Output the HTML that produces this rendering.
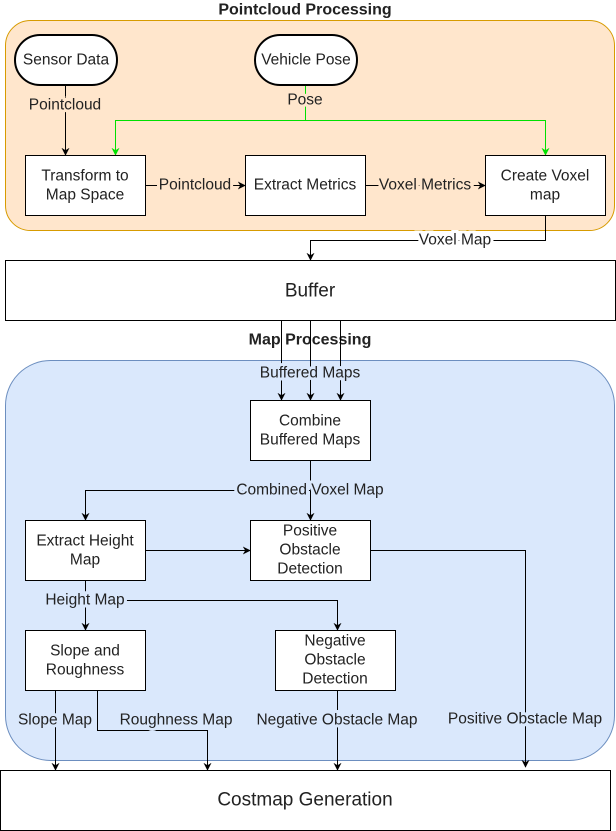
<!DOCTYPE html>
<html><head><meta charset="utf-8"><style>
html,body{margin:0;padding:0;background:#fff;}
svg{display:block;font-family:"Liberation Sans",Arial,sans-serif;}
text{font-size:15.5px;fill:#222;}
.c{text-anchor:middle;dominant-baseline:central;}
.lb{paint-order:stroke;stroke-width:6px;}
</style></head><body>
<svg width="616" height="831" viewBox="0 0 616 831" xmlns="http://www.w3.org/2000/svg">
<defs>
<marker id="a" viewBox="0 0 10 10" refX="9" refY="5" markerWidth="8" markerHeight="8" orient="auto" markerUnits="userSpaceOnUse"><path d="M0,0 L10,5 L0,10 L3,5 z" fill="#000"/></marker>
<marker id="g" viewBox="0 0 10 10" refX="9" refY="5" markerWidth="8" markerHeight="8" orient="auto" markerUnits="userSpaceOnUse"><path d="M0,0 L10,5 L0,10 L3,5 z" fill="#00e000"/></marker>
</defs>
<rect x="5.5" y="20.5" width="609" height="210" rx="25" fill="#ffe6cc" stroke="#d79b00"/>
<text x="305" y="10" class="c" style="font-weight:bold;font-size:16px">Pointcloud Processing</text>
<rect x="5.5" y="360.5" width="609" height="400" rx="45" fill="#dae8fc" stroke="#6c8ebf"/>
<text x="310" y="340" class="c" style="font-weight:bold;font-size:16px">Map Processing</text>

<g stroke="#000" fill="none" stroke-width="1">
<path d="M65.5,85 V155" marker-end="url(#a)"/>
<path d="M145,185.5 H245" marker-end="url(#a)"/>
<path d="M365,185.5 H485" marker-end="url(#a)"/>
<path d="M545.5,215 V240.5 H310.5 V260" marker-end="url(#a)"/>
<path d="M281.5,320 V400" marker-end="url(#a)"/>
<path d="M310.5,320 V400" marker-end="url(#a)"/>
<path d="M340.5,320 V400" marker-end="url(#a)"/>
<path d="M310.5,460 V520" marker-end="url(#a)"/>
<path d="M310.5,490.5 H85.5 V520" marker-end="url(#a)"/>
<path d="M145,550.5 H250" marker-end="url(#a)"/>
<path d="M370,550.5 H525.5 V767" marker-end="url(#a)"/>
<path d="M85.5,580 V630" marker-end="url(#a)"/>
<path d="M85.5,600.5 H337.5 V630" marker-end="url(#a)"/>
<path d="M55.5,690 V770" marker-end="url(#a)"/>
<path d="M97.5,690 V730.5 H207.5 V770" marker-end="url(#a)"/>
<path d="M337.5,690 V770" marker-end="url(#a)"/>
</g>
<g stroke="#00e000" fill="none">
<path d="M305.5,85 V120.5"/>
<path d="M305.5,120.5 H115.5 V155" marker-end="url(#g)"/>
<path d="M305.5,120.5 H545.5 V155" marker-end="url(#g)"/>
</g>

<rect x="15" y="35" width="102" height="50" rx="25" fill="#fff" stroke="#000" stroke-width="2"/>
<text x="66" y="60" class="c">Sensor Data</text>
<rect x="255" y="35" width="102" height="50" rx="25" fill="#fff" stroke="#000" stroke-width="2"/>
<text x="306" y="60" class="c">Vehicle Pose</text>

<g fill="#fff" stroke="#000">
<rect x="25.5" y="155.5" width="120" height="60"/>
<rect x="245.5" y="155.5" width="120" height="60"/>
<rect x="485.5" y="155.5" width="120" height="60"/>
<rect x="5.5" y="260.5" width="610" height="60"/>
<rect x="250.5" y="400.5" width="120" height="60"/>
<rect x="25.5" y="520.5" width="120" height="60"/>
<rect x="250.5" y="520.5" width="120" height="60"/>
<rect x="25.5" y="630.5" width="120" height="60"/>
<rect x="275.5" y="630.5" width="120" height="60"/>
<rect x="0.5" y="770.5" width="610" height="60"/>
</g>

<text x="85" y="176" class="c">Transform to</text>
<text x="85" y="195" class="c">Map Space</text>
<text x="305" y="185" class="c">Extract Metrics</text>
<text x="545" y="176" class="c">Create Voxel</text>
<text x="545" y="195" class="c">map</text>
<text x="310" y="291" class="c" style="font-size:19px">Buffer</text>
<text x="310" y="421" class="c">Combine</text>
<text x="310" y="440" class="c">Buffered Maps</text>
<text x="85" y="541" class="c">Extract Height</text>
<text x="85" y="560" class="c">Map</text>
<text x="310" y="531" class="c">Positive</text>
<text x="310" y="550" class="c">Obstacle</text>
<text x="310" y="569" class="c">Detection</text>
<text x="85" y="651" class="c">Slope and</text>
<text x="85" y="670" class="c">Roughness</text>
<text x="335" y="641" class="c">Negative</text>
<text x="335" y="660" class="c">Obstacle</text>
<text x="335" y="679" class="c">Detection</text>
<text x="305" y="800" class="c" style="font-size:19px">Costmap Generation</text>

<text x="65" y="105" class="c lb" stroke="#ffe6cc">Pointcloud</text>
<text x="305" y="100" class="c lb" stroke="#ffe6cc">Pose</text>
<text x="195" y="185" class="c lb" stroke="#ffe6cc">Pointcloud</text>
<text x="425" y="185" class="c lb" stroke="#ffe6cc">Voxel Metrics</text>
<text x="455" y="240" class="c lb" stroke="#fff">Voxel Map</text>
<text x="310" y="373" class="c lb" stroke="#dae8fc">Buffered Maps</text>
<text x="310" y="490" class="c lb" stroke="#dae8fc">Combined Voxel Map</text>
<text x="85" y="600" class="c lb" stroke="#dae8fc">Height Map</text>
<text x="55" y="720" class="c lb" stroke="#dae8fc">Slope Map</text>
<text x="176" y="720" class="c lb" stroke="#dae8fc">Roughness Map</text>
<text x="337" y="720" class="c lb" stroke="#dae8fc">Negative Obstacle Map</text>
<text x="525" y="719" class="c lb" stroke="#dae8fc">Positive Obstacle Map</text>
</svg>
</body></html>
